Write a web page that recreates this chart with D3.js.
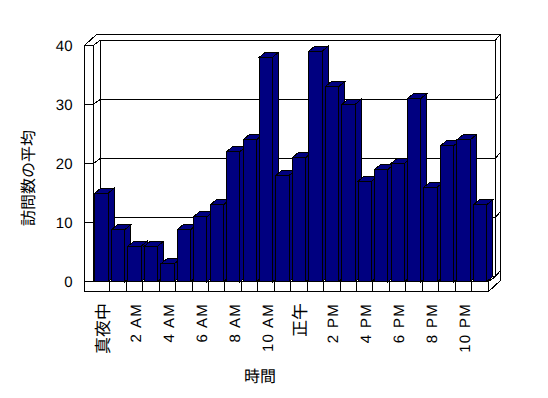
<!DOCTYPE html>
<html><head><meta charset="utf-8">
<script src="https://cdn.jsdelivr.net/npm/d3@7"></script>
<style>
html,body{margin:0;padding:0;background:#fff;}
svg{display:block;}
text{-webkit-font-smoothing:antialiased;text-rendering:geometricPrecision;}
</style></head>
<body>
<svg id="c" width="548" height="398"></svg>
<script>
// ---- data ----
const categories = ["真夜中","1 AM","2 AM","3 AM","4 AM","5 AM","6 AM","7 AM","8 AM","9 AM","10 AM","11 AM",
                    "正午","1 PM","2 PM","3 PM","4 PM","5 PM","6 PM","7 PM","8 PM","9 PM","10 PM","11 PM"];
const visits = [15, 8.8, 6, 6, 3, 8.8, 11, 13, 22, 24, 38, 18, 21, 39, 33, 30, 17, 19, 20, 31, 16, 23, 24, 13];
const tickLabels = ["真夜中","2 AM","4 AM","6 AM","8 AM","10 AM","正午","2 PM","4 PM","6 PM","8 PM","10 PM"];
const yTicks = [0, 10, 20, 30, 40];
const yTitle = "訪問数の平均";
const xTitle = "時間";

// ---- layout ----
const X0 = 93.3, X1 = 488.3, YB = 281.7, YT = 45.3;
const P = {x: 7, y: -5};     // plot depth
const T = {x: 5, y: -6};     // wall thickness
const BD = {x: 6, y: -5};    // bar depth
const LW = 8.6, FT = 10;     // left wall / floor thickness
const BAR = "#000080";

const svg = d3.select("#c");
const x = d3.scaleBand().domain(categories).range([X0, X1]).paddingInner(0.19).paddingOuter(0.1);
const y = d3.scaleLinear().domain([0, 40]).range([YB, YT]);

const g = svg.append("g").attr("shape-rendering", "crispEdges")
  .attr("stroke", "#000").attr("stroke-width", 1);

const OL = X0 - LW;
const line = (x1, y1, x2, y2) => g.append("line").attr("x1", x1).attr("y1", y1).attr("x2", x2).attr("y2", y2);
const poly = (pts, fill) => g.append("polygon").attr("points", pts.map(p => p.join(",")).join(" ")).attr("fill", fill);

// outer silhouette
poly([[OL, YB + FT], [OL, YT], [OL + P.x + T.x, YT + P.y + T.y], [X1 + P.x + T.x, YT + P.y + T.y],
      [X1 + P.x + T.x, YB + FT + P.y + T.y], [X1, YB + FT]], "#fff");
// left wall
line(X0, YT, X0, YB);
line(OL, YT, X0, YT);
line(X0, YT, X0 + P.x, YT + P.y);
// back wall inner face
poly([[X0 + P.x, YT + P.y], [X1 + P.x, YT + P.y], [X1 + P.x, YB + P.y], [X0 + P.x, YB + P.y]], "#fff");
line(X1 + P.x, YT + P.y, X1 + P.x + T.x, YT + P.y + T.y);
// floor
line(OL, YB, X1, YB);
line(X1, YB, X1, YB + FT);
line(X1, YB, X1 + P.x, YB + P.y);
line(X1 + P.x, YB + P.y, X1 + P.x + T.x, YB + P.y + T.y);
// category dividers on floor front
categories.forEach((c, i) => {
  if (i > 0) { const xx = X0 + i * x.step(); line(xx, YB, xx, YB + FT); }
});
// gridlines
yTicks.filter(v => v > 0 && v < 40).forEach(v => {
  const yy = y(v);
  line(OL, yy, X0, yy);
  line(X0, yy, X0 + P.x, yy + P.y);
  line(X0 + P.x, yy + P.y, X1 + P.x, yy + P.y);
  line(X1 + P.x, yy + P.y, X1 + P.x + T.x, yy + P.y + T.y);
});

// bars
const bars = g.append("g").attr("fill", BAR);
categories.forEach((c, i) => {
  const xl = x(c), xr = xl + x.bandwidth(), yt = y(visits[i]);
  const b = bars.append("g");
  b.append("polygon").attr("points", [[xr, yt], [xr + BD.x, yt + BD.y], [xr + BD.x, YB + BD.y], [xr, YB]].map(p => p.join(",")).join(" "));
  b.append("polygon").attr("points", [[xl, yt], [xl + BD.x, yt + BD.y], [xr + BD.x, yt + BD.y], [xr, yt]].map(p => p.join(",")).join(" "));
  b.append("rect").attr("x", xl).attr("y", yt).attr("width", x.bandwidth()).attr("height", YB - yt);
});

// y axis labels
const yAxis = svg.append("g").attr("transform", "translate(72.5,0)")
  .call(d3.axisLeft(y).tickValues(yTicks).tickSize(0).tickPadding(0).tickFormat(d3.format("d")));
yAxis.select(".domain").remove();
yAxis.selectAll("text").attr("font-family", "'Liberation Sans', Arial, sans-serif").attr("font-size", 15).attr("fill", "#000");

// x tick labels
const isCJK = s => /[\u3000-\u9fff]/.test(s);
svg.append("g").selectAll("text").data(tickLabels).join("text")
  .attr("transform", d => `translate(${x(d) + x.bandwidth() / 2 + 1},303) rotate(-90)`)
  .attr("text-anchor", "end")
  .attr("dy", "0.36em")
  .attr("font-family", d => isCJK(d) ? "'Noto Sans CJK JP', sans-serif" : "'Liberation Sans', Arial, sans-serif")
  .attr("font-size", d => isCJK(d) ? 17 : 15)
  .attr("letter-spacing", d => isCJK(d) ? 0 : 1.3)
  .attr("fill", "#000")
  .text(d => d);

// titles
svg.append("text").attr("transform", "translate(28,178) rotate(-90)")
  .attr("text-anchor", "middle").attr("dy", "0.36em").attr("fill", "#000")
  .attr("font-family", "'Noto Sans CJK JP', sans-serif").attr("font-size", 16).text(yTitle);
svg.append("text").attr("x", 260).attr("y", 376).attr("dy", "0.36em")
  .attr("text-anchor", "middle").attr("fill", "#000")
  .attr("font-family", "'Noto Sans CJK JP', sans-serif").attr("font-size", 16).text(xTitle);
</script>
</body></html>
